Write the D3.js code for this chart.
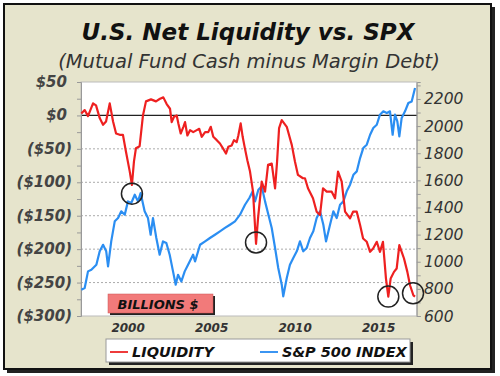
<!DOCTYPE html>
<html>
<head>
<meta charset="utf-8">
<script src="https://cdn.jsdelivr.net/npm/d3@7"></script>
<style>
  body { margin: 0; background: #fff; }
  text { font-family: "DejaVu Sans", Verdana, sans-serif; }
</style>
</head>
<body>
<svg id="chart" width="500" height="376"></svg>
<script>
// Net liquidity, billions of $ (decimal year, value)
const liqYears = [1997.22, 1997.42, 1997.62, 1997.92, 1998.10, 1998.32, 1998.52, 1998.70, 1998.92, 1999.12,
    1999.30, 1999.52, 1999.71, 1999.89, 2000.12, 2000.25, 2000.37, 2000.49, 2000.71, 2000.91,
    2001.09, 2001.39, 2001.69, 2001.93, 2002.13, 2002.33, 2002.53, 2002.63, 2002.77, 2002.93,
    2003.03, 2003.17, 2003.33, 2003.43, 2003.57, 2003.73, 2003.92, 2004.13, 2004.28, 2004.43,
    2004.63, 2004.82, 2004.97, 2005.12, 2005.33, 2005.52, 2005.72, 2005.88, 2006.02, 2006.22,
    2006.36, 2006.52, 2006.62, 2006.76, 2006.88, 2007.02, 2007.16, 2007.32, 2007.50, 2007.68,
    2007.80, 2008.02, 2008.22, 2008.40, 2008.62, 2008.82, 2008.94, 2009.06, 2009.22, 2009.52,
    2009.82, 2010.01, 2010.19, 2010.49, 2010.61, 2010.79, 2011.09, 2011.31, 2011.51, 2011.69,
    2011.91, 2012.21, 2012.41, 2012.59, 2012.81, 2013.01, 2013.31, 2013.49, 2013.71, 2013.91,
    2014.09, 2014.31, 2014.51, 2014.69, 2014.91, 2015.10, 2015.28, 2015.46, 2015.60, 2015.74,
    2015.94, 2016.10, 2016.26, 2016.40, 2016.54, 2016.74, 2016.90, 2017.10, 2017.20];
const liqValues = [3, 8, -1, 18, 15, -4, -14, -9, 18, -9,
    -27, -29, -29, -54, -84, -104, -69, -49, -46, 0,
    21, 24, 21, 25, 27, 17, 10, -10, -2, 0,
    -12, -27, -17, -10, -30, -22, -25, -22, -20, -32,
    -25, -25, -17, -32, -37, -42, -50, -57, -47, -45,
    -37, -40, -30, -12, -32, -50, -67, -84, -114, -192,
    -154, -99, -114, -74, -72, -109, -69, -19, -7, -17,
    -44, -69, -89, -94, -94, -109, -124, -144, -149, -109,
    -114, -114, -124, -84, -99, -144, -154, -144, -144, -164,
    -184, -189, -204, -199, -189, -204, -189, -244, -271, -244,
    -234, -229, -194, -204, -214, -234, -254, -269, -271];

// S&P 500 index level
const spxYears = [1997.22, 1997.42, 1997.62, 1997.82, 1998.12, 1998.32, 1998.52, 1998.71, 1998.82, 1999.01,
    1999.22, 1999.42, 1999.61, 1999.82, 2000.01, 2000.21, 2000.42, 2000.61, 2000.77, 2001.01,
    2001.21, 2001.37, 2001.51, 2001.71, 2001.91, 2002.11, 2002.31, 2002.51, 2002.71, 2002.87,
    2003.01, 2003.21, 2003.41, 2003.61, 2003.91, 2004.03, 2004.33, 2004.63, 2004.92, 2005.22,
    2005.52, 2005.82, 2006.12, 2006.42, 2006.72, 2007.02, 2007.28, 2007.48, 2007.62, 2007.82,
    2008.02, 2008.22, 2008.42, 2008.62, 2008.82, 2009.01, 2009.22, 2009.31, 2009.52, 2009.71,
    2009.91, 2010.12, 2010.31, 2010.51, 2010.71, 2010.91, 2011.11, 2011.31, 2011.51, 2011.71,
    2011.87, 2012.11, 2012.31, 2012.51, 2012.71, 2012.91, 2013.11, 2013.31, 2013.51, 2013.71,
    2013.91, 2014.10, 2014.31, 2014.51, 2014.70, 2014.91, 2015.10, 2015.30, 2015.51, 2015.70,
    2015.86, 2016.00, 2016.14, 2016.26, 2016.40, 2016.60, 2016.80, 2017.00, 2017.20];
const spxValues = [794, 806, 929, 941, 978, 1077, 1125, 1077, 966, 1150,
    1298, 1322, 1372, 1347, 1445, 1433, 1494, 1445, 1506, 1372,
    1322, 1199, 1322, 1175, 1052, 1150, 1138, 1052, 929, 831,
    904, 855, 929, 978, 1052, 1003, 1125, 1150, 1175, 1199,
    1224, 1249, 1273, 1298, 1347, 1420, 1470, 1519, 1445, 1531,
    1556, 1445, 1347, 1249, 1101, 954, 831, 745, 880, 978,
    1028, 1077, 1150, 1077, 1101, 1175, 1224, 1322, 1372, 1273,
    1150, 1273, 1372, 1322, 1420, 1445, 1519, 1568, 1641, 1666,
    1764, 1838, 1863, 1936, 1986, 2010, 2084, 2109, 2097, 2109,
    1936, 2084, 2035, 1924, 2060, 2109, 2170, 2182, 2280];

const xTicks = [2000, 2005, 2010, 2015];
const liqTicks = [50, 0, -50, -100, -150, -200, -250, -300];
const spxTicks = [600, 800, 1000, 1200, 1400, 1600, 1800, 2000, 2200];

// circled lows (year, liquidity value)
const circleYears = [2000.25, 2007.68, 2015.60, 2017.08];
const circleValues = [-117, -190, -271, -266];

const svg = d3.select("#chart");

// outer frame
svg.append("rect").attr("x", 7).attr("y", 7).attr("width", 488).attr("height", 366).attr("fill", "#222");
svg.append("rect").attr("x", 4).attr("y", 4).attr("width", 487).attr("height", 365)
    .attr("fill", "#e6e4cc").attr("stroke", "#111").attr("stroke-width", 2);

const margin = { top: 82, left: 81, right: 416.7, bottom: 316 };

const x = d3.scaleLinear().domain([1997.2, 2017.3]).range([margin.left, margin.right]);
const yL = d3.scaleLinear().domain([-300, 50]).range([margin.bottom, margin.top]);
const yR = d3.scaleLinear().domain([600, 2325]).range([margin.bottom, margin.top]);

// plot area
svg.append("rect")
    .attr("x", margin.left).attr("y", margin.top)
    .attr("width", margin.right - margin.left).attr("height", margin.bottom - margin.top)
    .attr("fill", "#fff").attr("stroke", "#bbb");

// grid lines
svg.append("g")
    .selectAll("line")
    .data(liqTicks.filter(d => d < 0 && d > -300))
    .join("line")
    .attr("x1", margin.left).attr("x2", margin.right)
    .attr("y1", d => yL(d)).attr("y2", d => yL(d))
    .attr("stroke", "#aaa").attr("stroke-dasharray", "2,2");

svg.append("line")
    .attr("x1", margin.left).attr("x2", margin.right)
    .attr("y1", yL(0)).attr("y2", yL(0))
    .attr("stroke", "#222").attr("stroke-width", 1.2);

// left axis
const leftAxis = svg.append("g")
    .attr("transform", `translate(${margin.left},0)`)
    .call(d3.axisLeft(yL).tickValues(d3.range(-300, 51, 25)).tickSize(4).tickFormat(""));
leftAxis.selectAll("path, line").attr("stroke", "#999");

svg.append("g")
    .selectAll("text")
    .data(liqTicks)
    .join("text")
    .attr("x", d => d < 0 ? 72 : 67)
    .attr("y", d => yL(d) + 5)
    .attr("text-anchor", "end")
    .attr("font-size", 15)
    .attr("font-weight", "bold")
    .attr("font-style", "italic")
    .attr("fill", "#444")
    .text(d => d < 0 ? `($${-d})` : `$${d}`);

// right axis
const rightAxis = svg.append("g")
    .attr("transform", `translate(${margin.right},0)`)
    .call(d3.axisRight(yR).tickValues(d3.range(600, 2301, 100)).tickSize(4).tickFormat(""));
rightAxis.selectAll("path, line").attr("stroke", "#999");

svg.append("g")
    .selectAll("text")
    .data(spxTicks)
    .join("text")
    .attr("x", 424)
    .attr("y", d => yR(d) + 5.5)
    .attr("font-size", 15.5)
    .attr("font-style", "italic")
    .attr("fill", "#333")
    .text(d => d);

// x axis labels
svg.append("g")
    .selectAll("text")
    .data(xTicks)
    .join("text")
    .attr("x", d => x(d + 0.02))
    .attr("y", 332)
    .attr("text-anchor", "middle")
    .attr("font-size", 12)
    .attr("font-weight", "bold")
    .attr("font-style", "italic")
    .attr("fill", "#333")
    .text(d => d);

// series
const liqData = liqYears.map((d, i) => [d, liqValues[i]]);
const spxData = spxYears.map((d, i) => [d, spxValues[i]]);

svg.append("path")
    .datum(spxData)
    .attr("fill", "none")
    .attr("stroke", "#2b8ef2")
    .attr("stroke-width", 2.2)
    .attr("stroke-linejoin", "round")
    .attr("d", d3.line().x(d => x(d[0])).y(d => yR(d[1])));

svg.append("path")
    .datum(liqData)
    .attr("fill", "none")
    .attr("stroke", "#ee2020")
    .attr("stroke-width", 2.2)
    .attr("stroke-linejoin", "round")
    .attr("d", d3.line().x(d => x(d[0])).y(d => yL(d[1])));

// circles
svg.append("g")
    .selectAll("circle")
    .data(circleYears)
    .join("circle")
    .attr("cx", d => x(d))
    .attr("cy", (d, i) => yL(circleValues[i]))
    .attr("r", 10.5)
    .attr("fill", "none")
    .attr("stroke", "#222")
    .attr("stroke-width", 1.5);

// BILLIONS $ label
svg.append("rect").attr("x", 110).attr("y", 296).attr("width", 105).attr("height", 19).attr("fill", "#222");
svg.append("rect").attr("x", 108).attr("y", 294).attr("width", 105).attr("height", 19)
    .attr("fill", "#f27a7a").attr("stroke", "#c55").attr("stroke-width", 0.5);
svg.append("text")
    .attr("x", 158).attr("y", 308.5)
    .attr("text-anchor", "middle")
    .attr("font-size", 13)
    .attr("font-weight", "bold")
    .attr("font-style", "italic")
    .attr("fill", "#111")
    .text("BILLIONS $");

// title
svg.append("text")
    .attr("x", 248).attr("y", 40)
    .attr("text-anchor", "middle")
    .attr("font-size", 23)
    .attr("font-weight", "bold")
    .attr("font-style", "italic")
    .attr("fill", "#111")
    .text("U.S. Net Liquidity vs. SPX");

svg.append("text")
    .attr("x", 249).attr("y", 68)
    .attr("text-anchor", "middle")
    .attr("font-size", 19.5)
    .attr("font-style", "italic")
    .attr("fill", "#333")
    .text("(Mutual Fund Cash minus Margin Debt)");

// legend
const legend = svg.append("g");
legend.append("rect").attr("x", 109).attr("y", 342).attr("width", 304).attr("height", 23).attr("fill", "#222");
legend.append("rect").attr("x", 106).attr("y", 339).attr("width", 304).attr("height", 23)
    .attr("fill", "#fff").attr("stroke", "#999");

const legendItems = [
    { label: "LIQUIDITY", color: "#ee3b3b", x: 110 },
    { label: "S&P 500 INDEX", color: "#3b95f2", x: 260 }
];

legendItems.forEach(item => {
    legend.append("line")
        .attr("x1", item.x).attr("x2", item.x + 18)
        .attr("y1", 352).attr("y2", 352)
        .attr("stroke", item.color).attr("stroke-width", 2);
    legend.append("text")
        .attr("x", item.x + 22).attr("y", 357)
        .attr("font-size", 14.5)
        .attr("font-weight", "bold")
        .attr("font-style", "italic")
        .attr("fill", "#111")
        .text(item.label);
});
</script>
</body>
</html>
